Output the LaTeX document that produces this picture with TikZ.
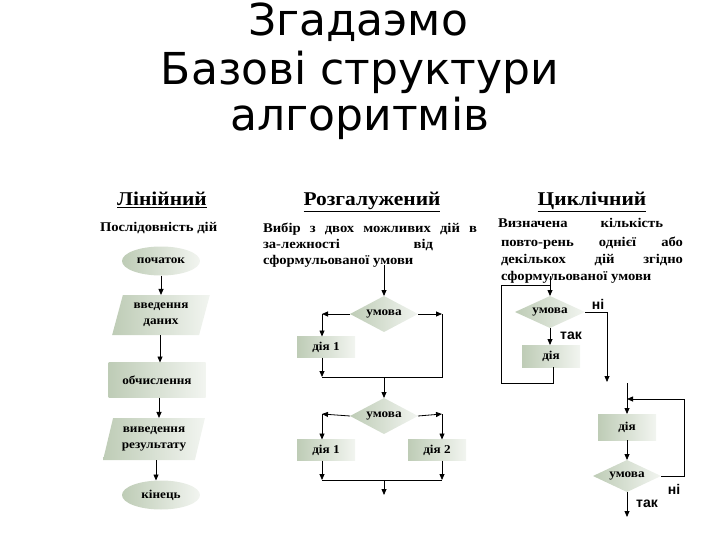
\documentclass[tikz,border=0pt]{standalone}
\usepackage{fontspec}
\setmainfont[FakeStretch=1.1]{Liberation Serif}
\newfontfamily\titlefont{DejaVu Sans}
\newfontfamily\lsans{Liberation Sans}
\usetikzlibrary{shapes.geometric,arrows.meta}
\definecolor{sage}{RGB}{190,204,182}
\begin{document}
\begin{tikzpicture}[x=1pt,y=-1pt,
  every node/.style={inner sep=0pt, outer sep=0pt},
  fl/.style={draw=none, left color=sage, right color=sage!20!white, font=\bfseries\fontsize{12}{16}\selectfont, align=center},
  term/.style={fl, ellipse, minimum width=78pt, minimum height=29pt},
  io/.style={fl, trapezium, trapezium left angle=72, trapezium right angle=108, trapezium stretches=true, minimum width=98pt, minimum height=40pt},
  proc/.style={fl, rectangle, minimum width=58pt, minimum height=21pt},
  dec/.style={fl, diamond, aspect=2, minimum width=68pt, minimum height=36pt},
  arr/.style={-{Triangle[length=6pt,width=5pt]}, line width=0.8pt},
  ln/.style={line width=0.8pt},
  lbl/.style={font=\lsans\bfseries\fontsize{14}{16}\selectfont},
  ttl/.style={font=\titlefont\fontsize{44}{50}\selectfont, anchor=base},
  head/.style={font=\bfseries\fontsize{19.5}{22}\selectfont, anchor=base},
  txt/.style={font=\bfseries\fontsize{13.3}{16}\selectfont, anchor=base west},
]
\useasboundingbox (0,0) rectangle (720,540);
% title
\node[ttl] (t1) at (358,36) {Згадаэмо};
\node[ttl] (t2) at (360,85) {Базові структури};
\node[ttl] (t3) at (360,131) {алгоритмів};
% headings
\node[head] (h1) at (162,206) {\underline{Лінійний}};
\node[head] (h2) at (372,206) {\underline{Розгалужений}};
\node[head] (h3) at (592,206) {\underline{Циклічний}};
% descriptions
\node[txt] (d1) at (100,231) {Послідовність дій};
\node[txt] (m1) at (263,233) {\hbox to 214pt{Вибір\hfill з\hfill двох\hfill можливих\hfill дій\hfill в}};
\node[txt] (m2) at (263,248) {\hbox to 170pt{за-лежності\hfill від}};
\node[txt] (m3) at (263,264) {сформульованої умови};
\node[txt] (c1) at (498,228) {\hbox to 165pt{Визначена\hfill кількість}};
\node[txt] (c2) at (501,246) {\hbox to 182pt{повто-рень\hfill однієї\hfill або}};
\node[txt] (c3) at (501,263) {\hbox to 182pt{декількох\hfill дій\hfill згідно}};
\node[txt] (c4) at (501,280) {сформульованої умови};

% ---- linear
\node[term] (s) at (161,261) {початок};
\node[io] (in) at (161,315) {введення\\даних};
\node[proc, minimum width=97pt, minimum height=35pt] (calc) at (157,380) {обчислення};
\node[io, minimum width=102pt, minimum height=42pt] (out) at (154,439) {виведення\\результату};
\node[term] (e) at (161,495) {кінець};
\draw[arr] (s.south) -- (s.south |- in.north);
\draw[arr] ([xshift=-1pt]in.south) -- ([xshift=-1pt]in.south |- calc.north);
\draw[arr] ([xshift=2pt]calc.south) -- ([xshift=2pt]calc.south |- out.north);
\draw[arr] ([xshift=2pt]out.south) -- ([xshift=2pt]out.south |- e.north);

% ---- branching
\coordinate (bt) at (384,265);
\node[dec] (b1) at (384,314) {умова};
\coordinate (b1l) at (322,314);
\coordinate (b1r) at (442,314);
\node[proc] (ba1) at (326,347) {дія 1};
\coordinate (b1bl) at (322,377);
\coordinate (b1br) at (442,377);
\coordinate (b1m) at (384,377);
\draw[arr] (bt) -- (b1.north);
\draw[arr] (b1.west) -- (b1l);
\draw[arr] (b1.east) -- (b1r);
\draw[arr] (b1l) -- (b1l |- ba1.north);
\draw[arr] (b1l |- ba1.south) -- (b1bl);
\draw[ln] (b1bl) -- (b1br) -- (b1r);
\node[dec] (b2) at (384,416) {умова};
\draw[arr] (b1m) -- (b2.north);
\coordinate (b2l) at (322,414);
\coordinate (b2r) at (442,414);
\node[proc] (ba2) at (326,450) {дія 1};
\node[proc] (ba3) at (437,450) {дія 2};
\coordinate (b2bl) at (322,480);
\coordinate (b2br) at (442,480);
\coordinate (b2m) at (384,480);
\coordinate (b2end) at (384,495);
\draw[arr] (b2.west) -- (b2l);
\draw[arr] (b2.east) -- (b2r);
\draw[arr] (b2l) -- (b2l |- ba2.north);
\draw[arr] (b2r) -- (b2r |- ba3.north);
\draw[arr] (b2l |- ba2.south) -- (b2bl);
\draw[arr] (b2r |- ba3.south) -- (b2br);
\draw[ln] (b2bl) -- (b2br);
\draw[arr] (b2m) -- (b2end);

% ---- cyclic (pre-condition)
\coordinate (ct) at (550,276);
\coordinate (cj) at (550,285);
\node[dec, minimum width=70pt, minimum height=32pt] (cd1) at (550,312) {умова};
\node[proc, minimum height=22pt] (ca1) at (551,356) {дія};
\coordinate (cr) at (607,312);
\coordinate (cx) at (607,382);
\coordinate (cl1) at (553,383);
\coordinate (cl2) at (501,383);
\coordinate (cl3) at (501,285);
\draw[arr] (ct) -- (cd1.north);
\draw[arr] (cd1.south) -- (cd1.south |- ca1.north);
\draw[ln] (ca1.south -| cl1) -- (cl1) -- (cl2) -- (cl3) -- (cj);
\draw[ln] (cd1.east) -- (cr);
\draw[arr] (cr) -- (cx);
\node[lbl] (n1) at (598,304) {ні};
\node[lbl] (y1) at (571,336) {так};

% ---- cyclic (post-condition)
\coordinate (pt) at (627,383);
\coordinate (pj) at (627,399);
\node[proc, minimum height=26pt] (pa) at (627,427) {дія};
\node[dec, minimum width=68pt, minimum height=32pt] (pd) at (627,476) {умова};
\coordinate (pr1) at (684,476);
\coordinate (pr2) at (684,399);
\coordinate (pend) at (627,517);
\draw[arr] (pt) -- (pa.north);
\draw[arr] (pa.south) -- (pd.north);
\draw[arr] (pd.east) -- (pr1) -- (pr2) -- (pj);
\draw[arr] (pd.south) -- (pend);
\node[lbl] (n2) at (674,489) {ні};
\node[lbl] (y2) at (647,504) {так};
\end{tikzpicture}
\end{document}
